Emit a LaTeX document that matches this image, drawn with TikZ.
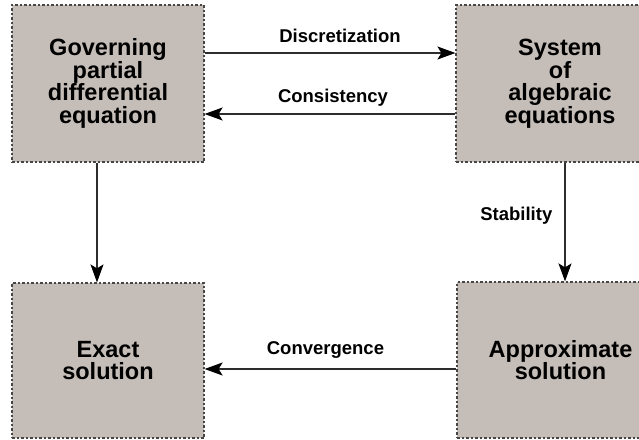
\documentclass[tikz,border=0pt]{standalone}
\usepackage{fontspec}
\setmainfont{Liberation Sans}
\usetikzlibrary{arrows.meta}
\definecolor{boxfill}{RGB}{197,189,183}
\definecolor{boxline}{RGB}{70,70,70}
\definecolor{arrline}{RGB}{45,45,45}
\begin{document}
\begin{tikzpicture}[x=1pt,y=-1pt,
  block/.style={rectangle, draw=boxline, fill=boxfill, line width=1.2pt,
    dash pattern=on 2.5pt off 2pt, align=center, inner sep=0pt,
    font=\fontsize{23.5}{22.5}\selectfont\bfseries},
  conn/.style={draw=arrline, line width=1.4pt,
    -{Stealth[length=18pt,width=13pt,inset=4pt,fill=black,color=black]}},
  lbl/.style={font=\fontsize{18.5}{20}\selectfont\bfseries, inner sep=0pt, text=black}]
\useasboundingbox (0,0) rectangle (639,439);
\begin{scope}
\clip (0,0) rectangle (639,439);
\node[block, minimum width=192pt, minimum height=157pt] (gov) at (108,83.5)
  {Governing\\partial\\differential\\equation};
\node[block, minimum width=208pt, minimum height=157pt] (sys) at (560,83.5)
  {System\\of\\algebraic\\equations};
\node[block, minimum width=192pt, minimum height=155pt] (exact) at (108,360.5)
  {Exact\\solution};
\node[block, minimum width=207pt, minimum height=156pt] (approx) at (560.5,360)
  {Approximate\\solution};
\end{scope}
\coordinate (d1) at (gov.east |- 0,53);
\coordinate (d2) at (sys.west |- 0,53);
\coordinate (c1) at (sys.west |- 0,114);
\coordinate (c2) at (gov.east |- 0,114);
\coordinate (s1) at (565,0 |- sys.south);
\coordinate (s2) at (565,0 |- approx.north);
\coordinate (g1) at (97,0 |- gov.south);
\coordinate (g2) at (97,0 |- exact.north);
\coordinate (v1) at (approx.west |- 0,369);
\coordinate (v2) at (exact.east |- 0,369);
\draw[conn] (d1) -- node[lbl, pos=0.54, anchor=base, yshift=11pt] {Discretization} (d2);
\draw[conn] (c1) -- node[lbl, pos=0.488, anchor=base, yshift=12pt] {Consistency} (c2);
\draw[conn] (s1) -- node[lbl, pos=0.45, anchor=east, xshift=-12pt] {Stability} (s2);
\draw[conn] (g1) -- (g2);
\draw[conn] (v1) -- node[lbl, pos=0.52, anchor=base, yshift=15pt] {Convergence} (v2);
\end{tikzpicture}
\end{document}
